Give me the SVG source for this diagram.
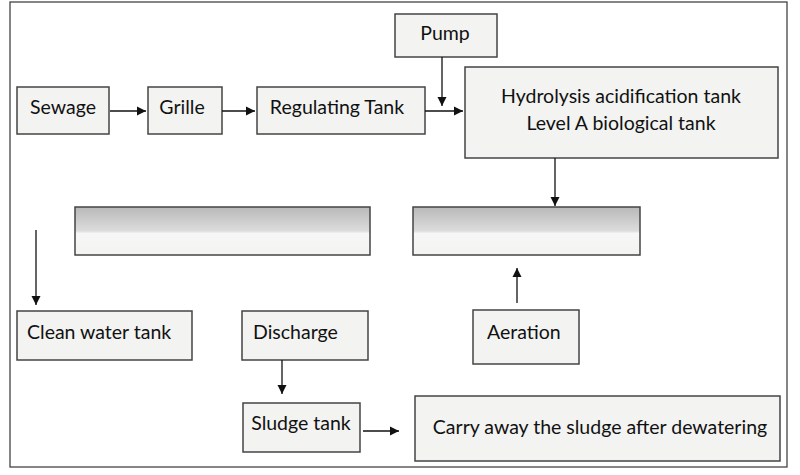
<svg xmlns="http://www.w3.org/2000/svg" width="800" height="475" viewBox="0 0 800 475">
<style>
.box{fill:#f3f3f1;stroke:#444;stroke-width:1.5}
.t{font-family:Lato,"Open Sans",sans-serif;font-size:19.5px;fill:#111}
.c{stroke:#111;stroke-width:1.3;fill:none;marker-end:url(#a)}
</style>
<defs>
<marker id="a" viewBox="0 0 10 10" refX="10" refY="5" markerWidth="7" markerHeight="7" orient="auto"><path d="M0,0L10,5L0,10z" fill="#111"/></marker>
<linearGradient id="g" x1="0" y1="0" x2="0" y2="1"><stop offset="0" stop-color="#b8b8b8"/><stop offset="0.5" stop-color="#dcdcdc"/><stop offset="0.55" stop-color="#f7f7f7"/><stop offset="1" stop-color="#f3f3f1"/></linearGradient>
</defs>
<rect width="800" height="475" fill="#fff"/>
<rect x="10" y="2" width="777" height="465" fill="none" stroke="#444" stroke-width="1.3"/>
<g id="sewage"><rect class="box" x="17" y="87" width="92" height="47"/><text class="t" x="63" y="114" text-anchor="middle">Sewage</text></g>
<g id="grille"><rect class="box" x="148" y="87" width="74" height="47"/><text class="t" x="182" y="114" text-anchor="middle">Grille</text></g>
<g id="regulating"><rect class="box" x="257" y="87" width="168" height="47"/><text class="t" x="337" y="114" text-anchor="middle">Regulating Tank</text></g>
<g id="pump"><rect class="box" x="395" y="14" width="102" height="43"/><text class="t" x="445" y="40" text-anchor="middle">Pump</text></g>
<g id="hydrolysis"><rect class="box" x="465" y="67" width="313" height="91"/><text class="t" x="621" y="103" text-anchor="middle">Hydrolysis acidification tank</text><text class="t" x="621" y="130" text-anchor="middle">Level A biological tank</text></g>
<g id="bar1"><rect x="75" y="207" width="295" height="48" fill="url(#g)" stroke="#444" stroke-width="1.5"/></g>
<g id="bar2"><rect x="413" y="207" width="227" height="48" fill="url(#g)" stroke="#444" stroke-width="1.5"/></g>
<g id="clean"><rect class="box" x="17" y="311" width="175" height="49"/><text class="t" x="27" y="339">Clean water tank</text></g>
<g id="discharge"><rect class="box" x="242" y="311" width="126" height="49"/><text class="t" x="253" y="339">Discharge</text></g>
<g id="aeration"><rect class="box" x="473" y="310" width="106" height="54"/><text class="t" x="487" y="339">Aeration</text></g>
<g id="sludge"><rect class="box" x="243" y="403" width="117" height="49"/><text class="t" x="301" y="430" text-anchor="middle">Sludge tank</text></g>
<g id="carry"><rect class="box" x="415" y="396" width="365" height="65"/><text class="t" x="600" y="434" text-anchor="middle">Carry away the sludge after dewatering</text></g>
<g id="connectors">
<path class="c" d="M110,111H146"/>
<path class="c" d="M222,111H255"/>
<path class="c" d="M425,111H463"/>
<path class="c" d="M442,57V106"/>
<path class="c" d="M555,158V206"/>
<path class="c" d="M517,303V268"/>
<path class="c" d="M36,230V305"/>
<path class="c" d="M282,360V394"/>
<path class="c" d="M363,431H399"/>
</g>
</svg>
